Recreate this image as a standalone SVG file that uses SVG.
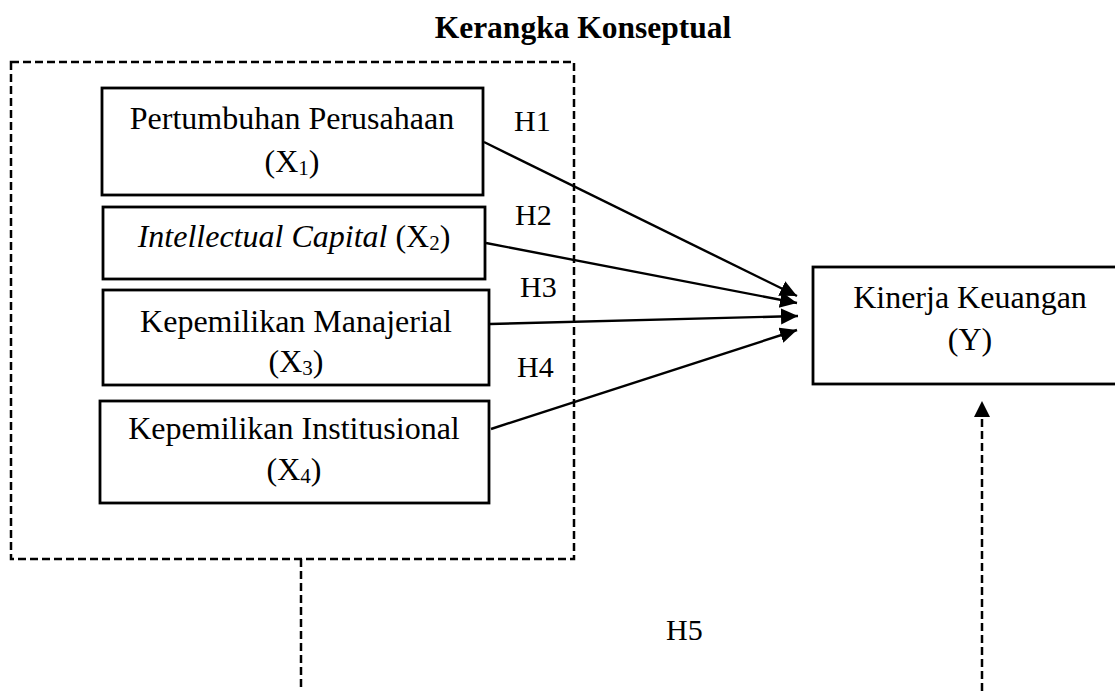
<svg xmlns="http://www.w3.org/2000/svg" width="1115" height="691" viewBox="0 0 1115 691">
<style>
  text { font-family: "Liberation Serif", "Times New Roman", serif; fill: #000; }
  .t { font-size: 32px; text-anchor: middle; }
  .h { font-size: 30px; }
  .title { font-size: 31.5px; font-weight: bold; text-anchor: middle; }
  .box { fill: #fff; stroke: #000; stroke-width: 2.8; }
  .dash { fill: none; stroke: #000; stroke-width: 2.5; stroke-dasharray: 8 4; }
  .conn { fill: none; stroke: #000; stroke-width: 2.4; }
  .sub { font-size: 21px; }
</style>
<defs>
  <marker id="arr" markerUnits="userSpaceOnUse" markerWidth="20" markerHeight="18" refX="17" refY="8" orient="auto">
    <path d="M0,0 L17,8 L0,16 Z" fill="#000"/>
  </marker>
</defs>
<rect width="1115" height="691" fill="#fff"/>
<text class="title" x="583" y="38">Kerangka Konseptual</text>

<g id="group-x">
  <rect class="dash" x="11" y="62" width="563" height="497"/>
</g>

<g id="x1">
  <rect class="box" x="102" y="88" width="381" height="107"/>
  <text class="t" x="292" y="129">Pertumbuhan Perusahaan</text>
  <text class="t" x="292" y="172">(X<tspan class="sub" dy="3">1</tspan><tspan dy="-3">)</tspan></text>
</g>
<g id="x2">
  <rect class="box" x="103" y="207" width="382" height="72"/>
  <text class="t" x="294" y="247"><tspan font-style="italic">Intellectual Capital</tspan> (X<tspan class="sub" dy="3">2</tspan><tspan dy="-3">)</tspan></text>
</g>
<g id="x3">
  <rect class="box" x="103" y="290" width="386" height="95"/>
  <text class="t" x="296" y="332">Kepemilikan Manajerial</text>
  <text class="t" x="296" y="372">(X<tspan class="sub" dy="3">3</tspan><tspan dy="-3">)</tspan></text>
</g>
<g id="x4">
  <rect class="box" x="100" y="401" width="389" height="102"/>
  <text class="t" x="294" y="439">Kepemilikan Institusional</text>
  <text class="t" x="294" y="480">(X<tspan class="sub" dy="3">4</tspan><tspan dy="-3">)</tspan></text>
</g>
<g id="y">
  <rect class="box" x="813" y="267" width="320" height="117"/>
  <text class="t" x="970" y="308">Kinerja Keuangan</text>
  <text class="t" x="970" y="350">(Y)</text>
</g>

<g id="connectors">
  <line class="conn" x1="484" y1="142" x2="797" y2="296" marker-end="url(#arr)"/>
  <line class="conn" x1="486" y1="243" x2="797" y2="303" marker-end="url(#arr)"/>
  <line class="conn" x1="490" y1="324" x2="798" y2="316" marker-end="url(#arr)"/>
  <line class="conn" x1="491" y1="429" x2="797" y2="330" marker-end="url(#arr)"/>
  <line class="dash" x1="301" y1="559" x2="301" y2="691"/>
  <line class="dash" x1="982" y1="691" x2="982" y2="404"/>
  <path d="M974,417 L982,401 L990,417 Z" fill="#000"/>
</g>

<g id="labels">
  <text class="h" x="514" y="131">H1</text>
  <text class="h" x="515" y="225">H2</text>
  <text class="h" x="520" y="297">H3</text>
  <text class="h" x="517" y="377">H4</text>
  <text class="h" x="666" y="640">H5</text>
</g>
</svg>
